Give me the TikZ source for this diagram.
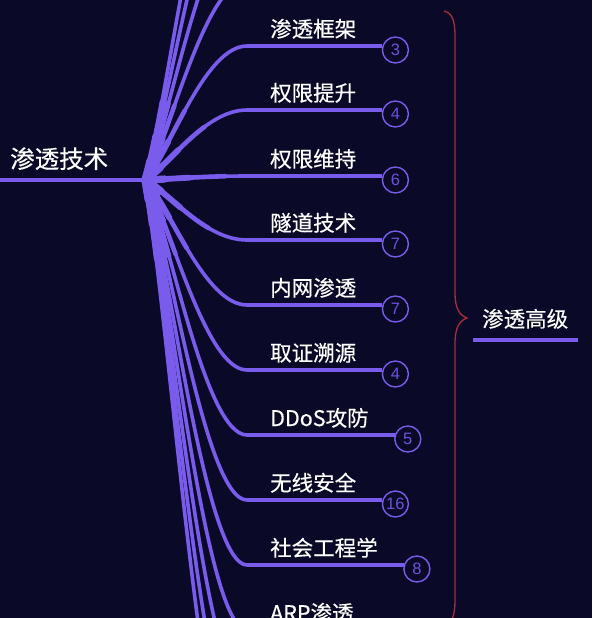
\documentclass[tikz,border=0pt]{standalone}
\usepackage{fontspec}
\setmainfont{Noto Sans CJK SC}[FakeBold=0.4]
\newfontfamily\numfont{Liberation Sans}
\usetikzlibrary{calc}
\definecolor{bg}{RGB}{10,10,40}
\definecolor{vio}{RGB}{122,92,236}
\definecolor{numc}{RGB}{108,82,222}
\definecolor{brc}{RGB}{172,44,56}
\tikzset{
  lbl/.style={anchor=base west, text=white, font=\fontsize{21.5}{24}\selectfont, inner sep=0pt},
  rootlbl/.style={anchor=base west, text=white, font=\fontsize{24.5}{27}\selectfont, inner sep=0pt},
  cnt/.style={circle, draw=vio, line width=1.4pt, minimum size=26pt, inner sep=0pt, text=numc, font=\numfont\fontsize{16.5}{16.5}\selectfont},
  wire/.style={draw=vio, line width=3.5pt},
  bracep/.style={draw=brc, line width=1.3pt},
}
% connector from hub to a branch start coordinate, with a tapered start
\newcommand\mmconn[2]{% #1 = branch name, #2 = y of its line
  \pgfmathsetmacro\mmcy{180+0.22*(#2-180)}
  \draw[vio, line width=3.6pt, line cap=round] (hub) .. controls (170,\mmcy) and (205,#2) .. (#1s);
  \foreach \mmw/\mml in {4.6/80,5.8/45,7.2/20}
    \draw[vio, line width=\mmw pt, line cap=round, dash pattern=on \mml pt off 3000pt] (hub) .. controls (170,\mmcy) and (205,#2) .. (#1s);
}
\newcommand\mmbranch[4]{% #1 name, #2 y of line, #3 label, #4 count
  \coordinate (#1s) at (247,#2);
  \mmconn{#1}{#2}
  \node[lbl] (#1l) at (270,#2-9) {#3};
  \coordinate (#1x) at ([xshift=39pt]#1l.east);
  \coordinate (#1y) at (0,#2+4);
  \node[cnt] (#1c) at (#1x |- #1y) {#4};
  \draw[wire] (#1s) -- ([xshift=0.5pt]#1c.west |- #1s);
}
\newcommand\mmhidden[2]{% off-picture branch: #1 name, #2 y
  \coordinate (#1s) at (247,#2);
  \coordinate (#1e) at (390,#2);
  \mmconn{#1}{#2}
  \draw[wire] (#1s) -- (#1e);
}
\begin{document}
\begin{tikzpicture}[x=1pt,y=-1pt]
\fill[bg] (0,0) rectangle (592,618);
\useasboundingbox (0,0) rectangle (592,618);
\clip (0,0) rectangle (592,618);
\coordinate (hub) at (145,180);
\coordinate (r0) at (0,180);
\node[rootlbl] (root) at (10,168) {渗透技术};
\draw[vio, line width=4pt] (r0) -- (hub);
% branches above the picture
\mmhidden{h1}{-19}
\mmhidden{h2}{-84}
\mmhidden{h3}{-149}
\mmhidden{h4}{-214}
% branches below the picture
\mmhidden{k1}{694}
\mmhidden{k2}{759}
\mmhidden{k3}{824}
% visible branches
\mmbranch{a}{46}{渗透框架}{3}
\mmbranch{b}{110}{权限提升}{4}
\mmbranch{c}{176}{权限维持}{6}
\mmbranch{d}{240}{隧道技术}{7}
\mmbranch{e}{305}{内网渗透}{7}
\mmbranch{f}{370}{取证溯源}{4}
\mmbranch{g}{435}{DDoS攻防}{5}
\mmbranch{h}{500}{无线安全}{16}
\mmbranch{i}{565}{社会工程学}{8}
% ARP branch (line below the picture edge)
\coordinate (js) at (247,630);
\mmconn{j}{630}
\node[lbl] (jl) at (270,621) {ARP渗透};
\coordinate (je) at (395,630);
\draw[wire] (js) -- (je);
% brace
\draw[bracep] (444,11) .. controls (452,13) and (455,20) .. (455,36) -- (455,292)
  .. controls (455,308) and (459,315) .. (467,318)
  .. controls (459,321) and (455,328) .. (455,344) -- (455,600)
  .. controls (455,615) and (452,625) .. (444,628);
% group label
\node[lbl] (grp) at (482,327) {渗透高级};
\coordinate (u0) at (473,340);
\coordinate (u1) at (578,340);
\draw[wire, line width=3.8pt] (u0) -- (u1);
\end{tikzpicture}
\end{document}
